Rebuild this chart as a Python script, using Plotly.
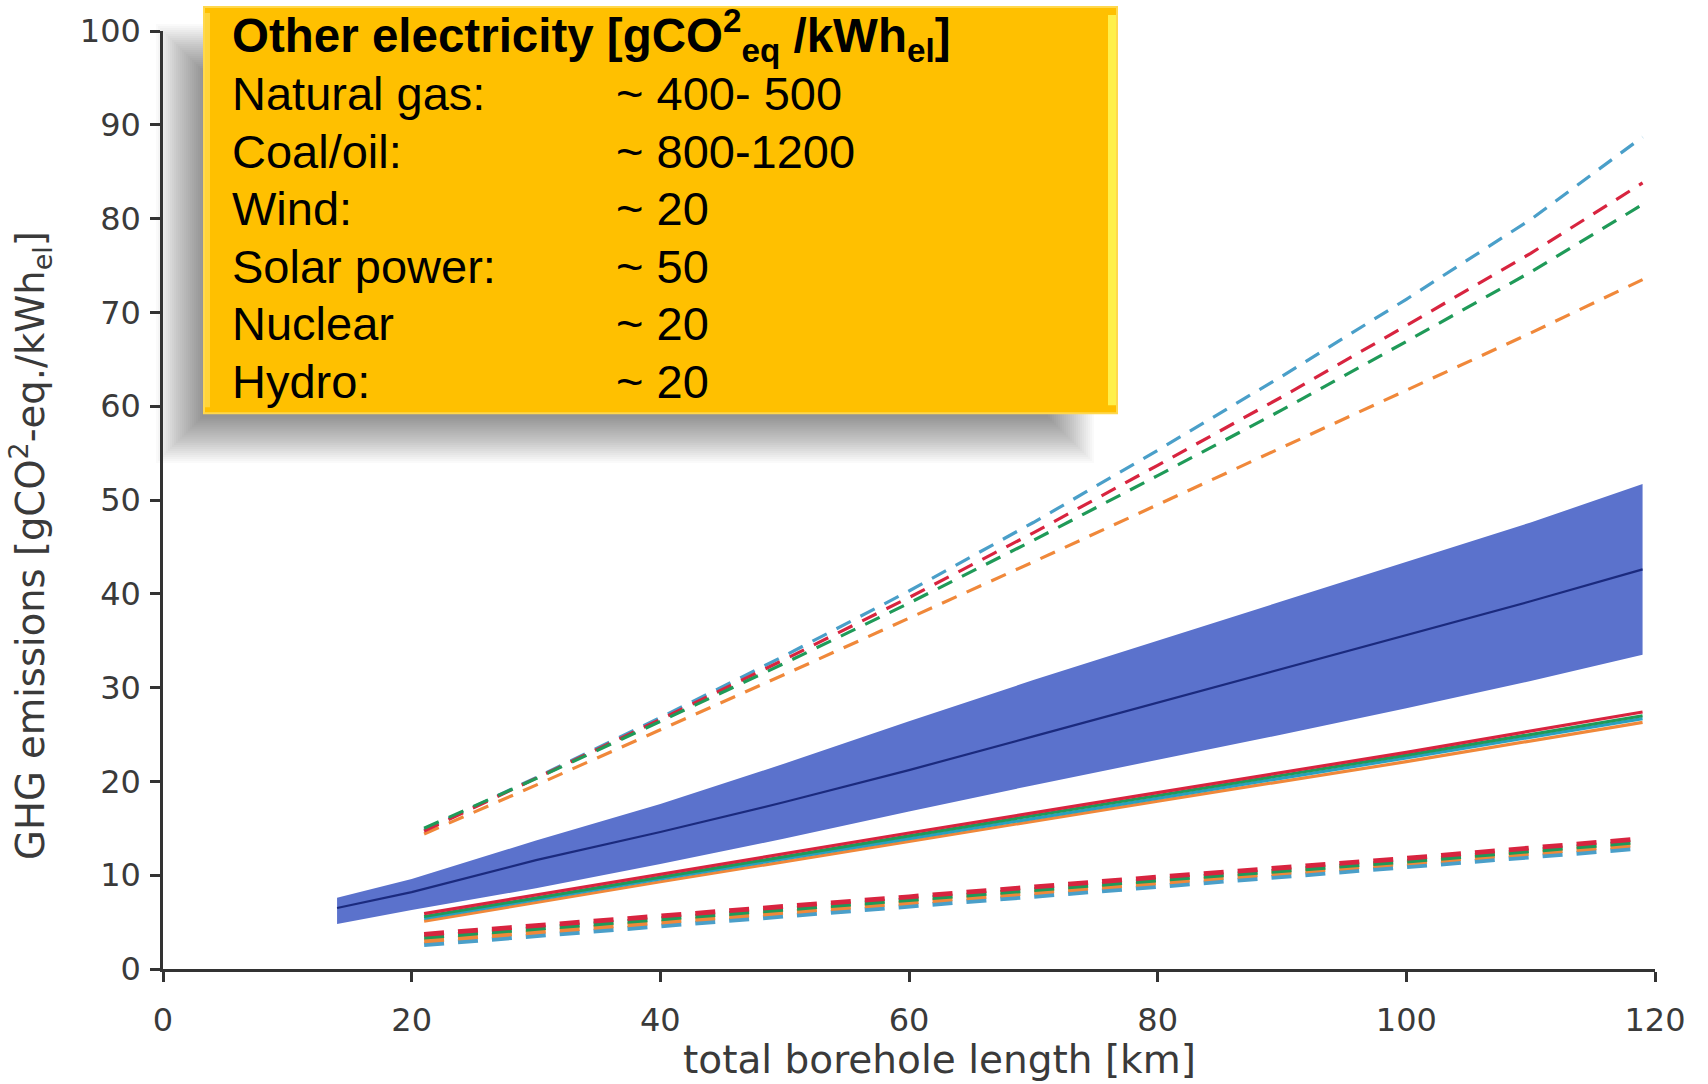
import plotly.graph_objects as go

# ---- data (borehole length in km, emissions in gCO2-eq./kWh_el) ----
band_x = [14, 20, 30, 40, 50, 60, 70, 80, 90, 100, 110, 119]
band_upper = [7.6, 9.6, 13.7, 17.6, 21.9, 26.4, 30.8, 35.0, 39.2, 43.4, 47.6, 51.7]
band_mean = [6.5, 8.2, 11.6, 14.6, 17.8, 21.2, 24.8, 28.4, 32.0, 35.6, 39.2, 42.6]
band_lower = [4.8, 6.3, 8.6, 11.2, 13.9, 16.8, 19.6, 22.3, 25.0, 27.8, 30.7, 33.5]

high_x = [21, 30, 40, 50, 60, 70, 80, 90, 100, 110, 119]
high_blue = [14.8, 20.4, 26.8, 33.4, 40.3, 47.6, 55.3, 63.2, 71.4, 79.9, 88.7]
high_red = [14.7, 20.3, 26.6, 33.0, 39.6, 46.5, 53.7, 61.0, 68.6, 76.3, 83.8]
high_green = [15.0, 20.3, 26.4, 32.6, 39.0, 45.7, 52.6, 59.6, 66.9, 74.3, 81.5]
high_orange = [14.4, 19.6, 25.5, 31.4, 37.4, 43.4, 49.5, 55.6, 61.7, 67.8, 73.5]

mid_x = [21, 40, 60, 80, 100, 119]
mid_red = [5.9, 10.1, 14.5, 18.8, 23.1, 27.4]
mid_green = [5.6, 9.8, 14.2, 18.5, 22.8, 27.0]
mid_blue = [5.4, 9.6, 13.9, 18.2, 22.5, 26.7]
mid_orange = [5.1, 9.3, 13.6, 17.9, 22.1, 26.3]

low_x = [21, 40, 60, 80, 100, 119]
low_red = [3.7, 5.6, 7.7, 9.8, 11.8, 13.9]
low_green = [3.4, 5.3, 7.4, 9.5, 11.5, 13.6]
low_orange = [3.0, 5.0, 7.0, 9.1, 11.2, 13.3]
low_blue = [2.6, 4.6, 6.6, 8.7, 10.8, 12.9]

x_ticks = [0, 20, 40, 60, 80, 100, 120]
y_ticks = [0, 10, 20, 30, 40, 50, 60, 70, 80, 90, 100]

info_title = "Other electricity [gCO<sup>2</sup><sub>eq</sub> /kWh<sub>el</sub>]"
info_sources = ["Natural gas:", "Coal/oil:", "Wind:", "Solar power:", "Nuclear", "Hydro:"]
info_values = ["~ 400- 500", "~ 800-1200", "~ 20", "~ 50", "~ 20", "~ 20"]

# ---- styling ----
C_BLUE = "#4a9fc9"
C_RED = "#d8243f"
C_GREEN = "#1f9a58"
C_ORANGE = "#f0883a"
C_TEAL = "#2a9fbf"
BAND_FILL = "#5b72cc"
BAND_LINE = "#1b2a7e"
AXIS_C = "#333333"
TICK_FONT = dict(family="DejaVu Sans", size=32, color="#3a3a3a")

W, H = 1708, 1084
ML, MR, MT, MB = 163, 53, 29, 115
PW, PH = W - ML - MR, H - MT - MB


def px(xp):
    return (xp - ML) / PW


def py(yp):
    return (H - MB - yp) / PH


fig = go.Figure()

# uncertainty band around the mean
fig.add_trace(go.Scatter(x=band_x, y=band_lower, mode="lines",
                         line=dict(width=0, color=BAND_FILL), hoverinfo="skip"))
fig.add_trace(go.Scatter(x=band_x, y=band_upper, mode="lines", fill="tonexty",
                         fillcolor=BAND_FILL, line=dict(width=0, color=BAND_FILL)))
fig.add_trace(go.Scatter(x=band_x, y=band_mean, mode="lines",
                         line=dict(width=2.2, color=BAND_LINE)))

# solid group
for ys, c in [(mid_orange, C_ORANGE), (mid_blue, C_TEAL), (mid_green, C_GREEN), (mid_red, C_RED)]:
    fig.add_trace(go.Scatter(x=mid_x, y=ys, mode="lines", line=dict(width=3.2, color=c)))

# thick short-dash group
for ys, c in [(low_blue, C_BLUE), (low_orange, C_ORANGE), (low_green, C_GREEN), (low_red, C_RED)]:
    fig.add_trace(go.Scatter(x=low_x, y=ys, mode="lines",
                             line=dict(width=4.8, color=c, dash="20px,14px")))

# long-dash group
for ys, c in [(high_blue, C_BLUE), (high_orange, C_ORANGE), (high_red, C_RED), (high_green, C_GREEN)]:
    fig.add_trace(go.Scatter(x=high_x, y=ys, mode="lines",
                             line=dict(width=3.2, color=c, dash="16px,11px")))

# ---- info box with soft drop shadow ----
shapes = []
bx0, bx1, by0, by1 = 204, 1117, 5, 412
sx0, sx1, sy0, sy1 = 156, 1094, 22, 462
for i in range(24):
    d = i * 2
    shapes.append(dict(type="rect", xref="paper", yref="paper", layer="below",
                       x0=px(sx0 + d), x1=px(sx1 - d), y0=py(sy1 - d), y1=py(sy0 + d),
                       fillcolor="rgba(0,0,0,0.019)", line=dict(width=0)))
shapes.append(dict(type="rect", xref="paper", yref="paper", layer="above",
                   x0=px(bx0), x1=px(bx1), y0=py(by1), y1=py(by0),
                   fillcolor="#ffc000", line=dict(color="#ffd84d", width=2)))
shapes.append(dict(type="rect", xref="paper", yref="paper", layer="above",
                   x0=px(bx1 - 9), x1=px(bx1 - 1), y0=py(by1 - 8), y1=py(by0 + 8),
                   fillcolor="#fff04a", line=dict(width=0)))
shapes.append(dict(type="rect", xref="paper", yref="paper", layer="above",
                   x0=px(bx0 + 1), x1=px(bx0 + 6), y0=py(by1 - 6), y1=py(by0 + 6),
                   fillcolor="#ffd43a", line=dict(width=0)))

annotations = []
BOX_FONT = "Liberation Sans, Arial, sans-serif"
annotations.append(dict(xref="paper", yref="paper", x=px(230), y=py(34),
                        xanchor="left", yanchor="middle", showarrow=False,
                        text="<b>" + info_title + "</b>",
                        font=dict(family=BOX_FONT, size=47.5, color="black")))
row0, pitch = 92, 57.6
for i, (lab, val) in enumerate(zip(info_sources, info_values)):
    yc = row0 + i * pitch
    annotations.append(dict(xref="paper", yref="paper", x=px(230), y=py(yc),
                            xanchor="left", yanchor="middle", showarrow=False,
                            text=lab, font=dict(family=BOX_FONT, size=47, color="black")))
    annotations.append(dict(xref="paper", yref="paper", x=px(614), y=py(yc),
                            xanchor="left", yanchor="middle", showarrow=False,
                            text=val, font=dict(family=BOX_FONT, size=47, color="black")))

# axis titles
annotations.append(dict(xref="paper", yref="paper", x=px(939), y=py(1060),
                        xanchor="center", yanchor="middle", showarrow=False,
                        text="total borehole length [km]",
                        font=dict(family="DejaVu Sans", size=39, color="#3a3a3a")))
annotations.append(dict(xref="paper", yref="paper", x=px(31), y=py(545),
                        xanchor="center", yanchor="middle", showarrow=False, textangle=-90,
                        text="GHG emissions [gCO<sup>2</sup>-eq./kWh<sub>el</sub>]",
                        font=dict(family="DejaVu Sans", size=38.5, color="#3a3a3a")))

fig.update_layout(
    width=W, height=H,
    margin=dict(l=ML, r=MR, t=MT, b=MB),
    paper_bgcolor="white", plot_bgcolor="rgba(0,0,0,0)",
    showlegend=False,
    shapes=shapes, annotations=annotations,
)
fig.update_xaxes(range=[0, 120], tickvals=x_ticks, showgrid=False, zeroline=False,
                 showline=True, linecolor=AXIS_C, linewidth=2.5,
                 ticks="outside", ticklen=10, tickwidth=2.5, tickcolor=AXIS_C,
                 tickfont=TICK_FONT, ticklabelstandoff=11)
fig.update_yaxes(range=[0, 100], tickvals=y_ticks, showgrid=False, zeroline=False,
                 showline=True, linecolor=AXIS_C, linewidth=2.5,
                 ticks="outside", ticklen=10, tickwidth=2.5, tickcolor=AXIS_C,
                 tickfont=TICK_FONT, ticklabelstandoff=3)

fig.write_html("out.html")
